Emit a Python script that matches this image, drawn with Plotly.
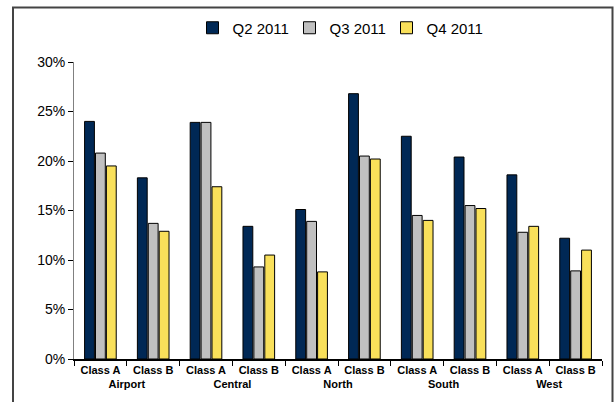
import plotly.graph_objects as go

regions = ["Airport", "Airport", "Central", "Central", "North", "North",
           "South", "South", "West", "West"]
classes = ["Class A", "Class B"] * 5
series_names = ["Q2 2011", "Q3 2011", "Q4 2011"]
q2 = [24.0, 18.3, 23.9, 13.4, 15.1, 26.8, 22.5, 20.4, 18.6, 12.2]
q3 = [20.8, 13.7, 23.9, 9.3, 13.9, 20.5, 14.5, 15.5, 12.8, 8.9]
q4 = [19.5, 12.9, 17.4, 10.5, 8.8, 20.2, 14.0, 15.2, 13.4, 11.0]
colors = ["#002855", "#C0C0C0", "#F9E05A"]
y_ticks = [0, 5, 10, 15, 20, 25, 30]
y_tick_labels = [f"{v}%" for v in y_ticks]

fig = go.Figure()
for name, vals, col in zip(series_names, [q2, q3, q4], colors):
    fig.add_trace(go.Bar(
        x=[regions, classes], y=vals, name=name,
        marker=dict(color=col, line=dict(color="black", width=1)),
    ))

W, H = 614, 402
L, R, T, B = 74, 12, 62, 43
pw, ph = W - L - R, H - T - B

def px(x):
    return (x - L) / pw

def py(y):
    return (H - B - y) / ph

FONT = "Liberation Sans, Arial, sans-serif"

fig.update_layout(
    width=W, height=H,
    margin=dict(l=L, r=R, t=T, b=B),
    paper_bgcolor="white", plot_bgcolor="white",
    barmode="group", bargap=0.38, bargroupgap=0.1,
    font=dict(family=FONT, color="black"),
    legend=dict(orientation="h", x=0.5, xanchor="center", y=py(28), yanchor="middle",
                font=dict(size=15, family=FONT), itemwidth=30, traceorder="normal",
                entrywidth=52, entrywidthmode="pixels",
                bgcolor="rgba(0,0,0,0)"),
    xaxis=dict(type="multicategory", showline=True, linecolor="black", linewidth=1.5,
               ticks="outside", tickson="boundaries", ticklen=5, tickcolor="black",
               showdividers=False, showgrid=False,
               tickfont=dict(size=11, family=FONT, weight="bold")),
    yaxis=dict(range=[0, 30], tickvals=y_ticks, ticktext=y_tick_labels, ticks="outside",
               ticklen=5, tickcolor="black", showline=True, linecolor="#808080",
               linewidth=1, showgrid=False, zeroline=False,
               tickfont=dict(size=14, family=FONT)),
    shapes=[dict(type="rect", xref="paper", yref="paper",
                 x0=px(13), x1=px(612.5), y0=py(406), y1=py(7.5),
                 line=dict(color="#444444", width=2), layer="above")],
)

fig.write_html("out.html")
